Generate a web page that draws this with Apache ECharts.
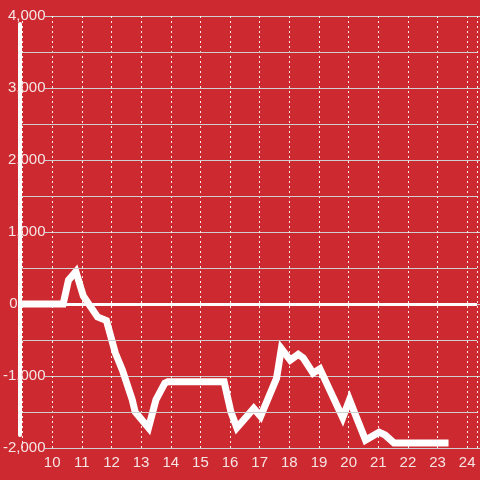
<!DOCTYPE html>
<html>
<head>
<meta charset="utf-8">
<script src="https://cdn.jsdelivr.net/npm/echarts@6/dist/echarts.min.js"></script>
<style>html,body{margin:0;padding:0;background:#cc2a30;}#c{width:480px;height:480px;}</style>
</head>
<body>
<div id="c"></div>
<script>
var hours = [8.9, 10.37, 10.55, 10.8, 11.05, 11.53, 11.83, 12.13, 12.37, 12.7, 12.8, 13.25, 13.5, 13.8, 13.9, 15.8, 16.03, 16.23, 16.8, 17.03, 17.57, 17.73, 18.03, 18.3, 18.47, 18.8, 19.03, 19.8, 20.03, 20.23, 20.57, 21.03, 21.23, 21.53, 23.37];
var values = [0, 0, 330, 450, 110, -180, -230, -680, -920, -1330, -1500, -1720, -1330, -1100, -1080, -1080, -1500, -1720, -1450, -1560, -1030, -620, -780, -700, -750, -960, -900, -1580, -1330, -1540, -1890, -1780, -1820, -1930, -1930];
var yTicks = [-2000, -1000, 0, 1000, 2000, 3000, 4000];
var xTicks = [10, 11, 12, 13, 14, 15, 16, 17, 18, 19, 20, 21, 22, 23, 24];

var data = hours.map(function (h, i) { return [h, values[i]]; });
var bg = '#cc2a30';
var txt = '#f6e4e4';
var font = 'Arial';
var chart = echarts.init(document.getElementById('c'), null, {renderer: 'canvas'});
chart.setOption({
  backgroundColor: bg,
  animation: false,
  textStyle: {fontFamily: font, fontSize: 15},
  grid: [
    {left: 20, right: 0, top: 16, bottom: 32, containLabel: false},
    {left: 45, right: 0, top: 16, bottom: 32, containLabel: false},
    {left: 20, width: 10, top: 24, bottom: 45, containLabel: false}
  ],
  xAxis: [{
    gridIndex: 0, type: 'value', min: 9, max: 24.33, interval: 1,
    axisLine: {show: false}, axisTick: {show: false},
    axisLabel: {
      color: txt, fontSize: 15, fontFamily: font, margin: 7,
      formatter: function (v) { return xTicks.indexOf(v) >= 0 ? String(v) : ''; }
    },
    splitLine: {show: true, lineStyle: {color: 'rgba(255,255,255,0.9)', width: 1, type: [2, 3]}}
  }, {
    gridIndex: 1, type: 'value', min: 0, max: 1, show: false
  }, {
    gridIndex: 2, type: 'value', min: 0, max: 1, show: false
  }],
  yAxis: [{
    gridIndex: 0, type: 'value', min: -2000, max: 4000, interval: 1000, z: 4,
    axisLine: {show: false},
    axisTick: {show: false},
    minorTick: {show: false, splitNumber: 2},
    minorSplitLine: {show: true, lineStyle: {color: '#cfcfcf', width: 1}},
    splitLine: {show: false},
    axisLabel: {
      color: txt, fontSize: 15, fontFamily: font, margin: -23,
      formatter: function (v) {
        if (v === 0) return '{z|0}';
        return yTicks.indexOf(v) >= 0 ? v.toLocaleString('en-US') : '';
      },
      rich: {z: {color: txt, fontSize: 15, fontFamily: font, padding: [0, 28, 0, 0]}}
    }
  }, {
    gridIndex: 1, type: 'value', min: -2000, max: 4000, interval: 1000, z: 0,
    axisLine: {show: false}, axisTick: {show: false}, axisLabel: {show: false},
    splitLine: {show: true, lineStyle: {color: '#cfcfcf', width: 1}}
  }, {
    gridIndex: 2, type: 'value', min: 0, max: 1, z: 3, position: 'left',
    axisLine: {show: true, onZero: false, lineStyle: {color: '#ffffff', width: 4}},
    axisTick: {show: false}, axisLabel: {show: false}, splitLine: {show: false}
  }],
  series: [{
    type: 'line', xAxisIndex: 0, yAxisIndex: 0, data: data, showSymbol: false, symbol: 'none', clip: false,
    lineStyle: {color: '#ffffff', width: 7, cap: 'butt', join: 'miter'},
    markLine: {
      silent: true, symbol: 'none', label: {show: false},
      lineStyle: {color: '#ffffff', width: 3, type: 'solid'},
      data: [{yAxis: 0}]
    },
    z: 2
  }]
});
</script>
</body>
</html>
